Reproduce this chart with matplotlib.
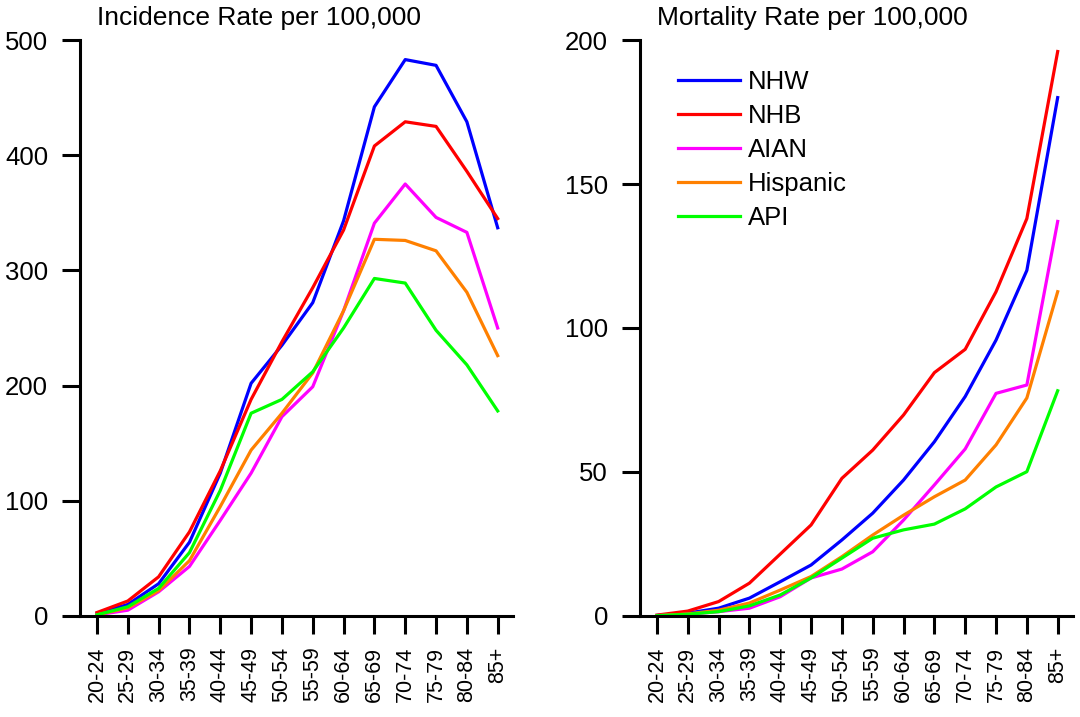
import matplotlib
matplotlib.use("Agg")
import matplotlib.pyplot as plt
import matplotlib.transforms as mtransforms

plt.rcParams["font.family"] = ["Liberation Sans", "DejaVu Sans"]

age_groups = ["20-24", "25-29", "30-34", "35-39", "40-44", "45-49", "50-54",
              "55-59", "60-64", "65-69", "70-74", "75-79", "80-84", "85+"]
groups = ["NHW", "NHB", "AIAN", "Hispanic", "API"]
colors = ["#0000FF", "#FF0000", "#FF00FF", "#FF8000", "#00FF00"]

# incidence rate per 100,000
inc_nhw = [2, 10, 28, 64, 124, 202, 235, 272, 343, 442, 483, 478, 429, 337]
inc_nhb = [3, 13, 34, 73, 126, 188, 238, 285, 335, 408, 429, 425, 386, 345]
inc_aian = [1, 5, 21, 43, 83, 124, 173, 199, 265, 341, 375, 346, 333, 250]
inc_hisp = [1, 7, 22, 48, 95, 144, 176, 211, 265, 327, 326, 317, 281, 226]
inc_api = [1, 8, 24, 55, 109, 176, 188, 212, 250, 293, 289, 248, 218, 178]

# mortality rate per 100,000
mort_nhw = [0.2, 1.0, 2.7, 6.2, 11.9, 17.7, 26.4, 35.7, 47.2, 60.5, 76.2, 95.8, 120.0, 180.0]
mort_nhb = [0.3, 1.7, 5.0, 11.4, 21.5, 31.6, 47.8, 57.6, 69.8, 84.5, 92.6, 112.6, 138.0, 196.0]
mort_aian = [0.1, 0.6, 1.5, 2.7, 6.7, 13.2, 16.3, 22.3, 33.3, 45.5, 58.0, 77.3, 80.2, 137.0]
mort_hisp = [0.1, 0.7, 2.0, 4.5, 9.0, 13.7, 20.6, 28.1, 35.0, 41.4, 47.2, 59.4, 75.7, 112.6]
mort_api = [0.1, 0.6, 1.5, 3.5, 7.3, 13.2, 20.1, 27.0, 29.9, 31.9, 37.2, 44.8, 50.1, 78.2]

incidence = [inc_nhw, inc_nhb, inc_aian, inc_hisp, inc_api]
mortality = [mort_nhw, mort_nhb, mort_aian, mort_hisp, mort_api]

fig = plt.figure(figsize=(10.8, 7.17), dpi=100)
ax1 = fig.add_axes([0.0741, 0.1409, 0.401, 0.8033])
ax2 = fig.add_axes([0.5926, 0.1409, 0.401, 0.8033])

x = list(range(len(age_groups)))


def style_axis(ax, ymax, step, title):
    ax.set_xlim(-0.55, 13.5)
    ax.set_ylim(0, ymax)
    ax.set_yticks(range(0, ymax + 1, step))
    ax.set_xticks(x)
    ax.set_xticklabels(age_groups, rotation=90)
    for side in ["top", "right"]:
        ax.spines[side].set_visible(False)
    for side in ["left", "bottom"]:
        ax.spines[side].set_linewidth(2.2)
    ax.tick_params(axis="both", direction="out", length=13, width=2.2)
    ax.tick_params(axis="y", labelsize=18.5, pad=10)
    ax.tick_params(axis="x", labelsize=15.5, pad=9)
    trans = mtransforms.offset_copy(
        mtransforms.blended_transform_factory(ax.transData, ax.transAxes),
        fig=fig, y=10, units="dots")
    ax.text(0, 1.0, title, transform=trans, ha="left", va="bottom", fontsize=19)


for vals, name, c in zip(incidence, groups, colors):
    ax1.plot(x, vals, color=c, lw=2.3, label=name)
style_axis(ax1, 500, 100, "Incidence Rate per 100,000")

for vals, name, c in zip(mortality, groups, colors):
    ax2.plot(x, vals, color=c, lw=2.3, label=name)
style_axis(ax2, 200, 50, "Mortality Rate per 100,000")

ax2.legend(loc="upper left", bbox_to_anchor=(0.088, 0.948), frameon=False,
           fontsize=18.5, handlelength=2.4, handletextpad=0.3,
           labelspacing=0.39, borderpad=0, borderaxespad=0)

fig.savefig("out.png", dpi=100)
